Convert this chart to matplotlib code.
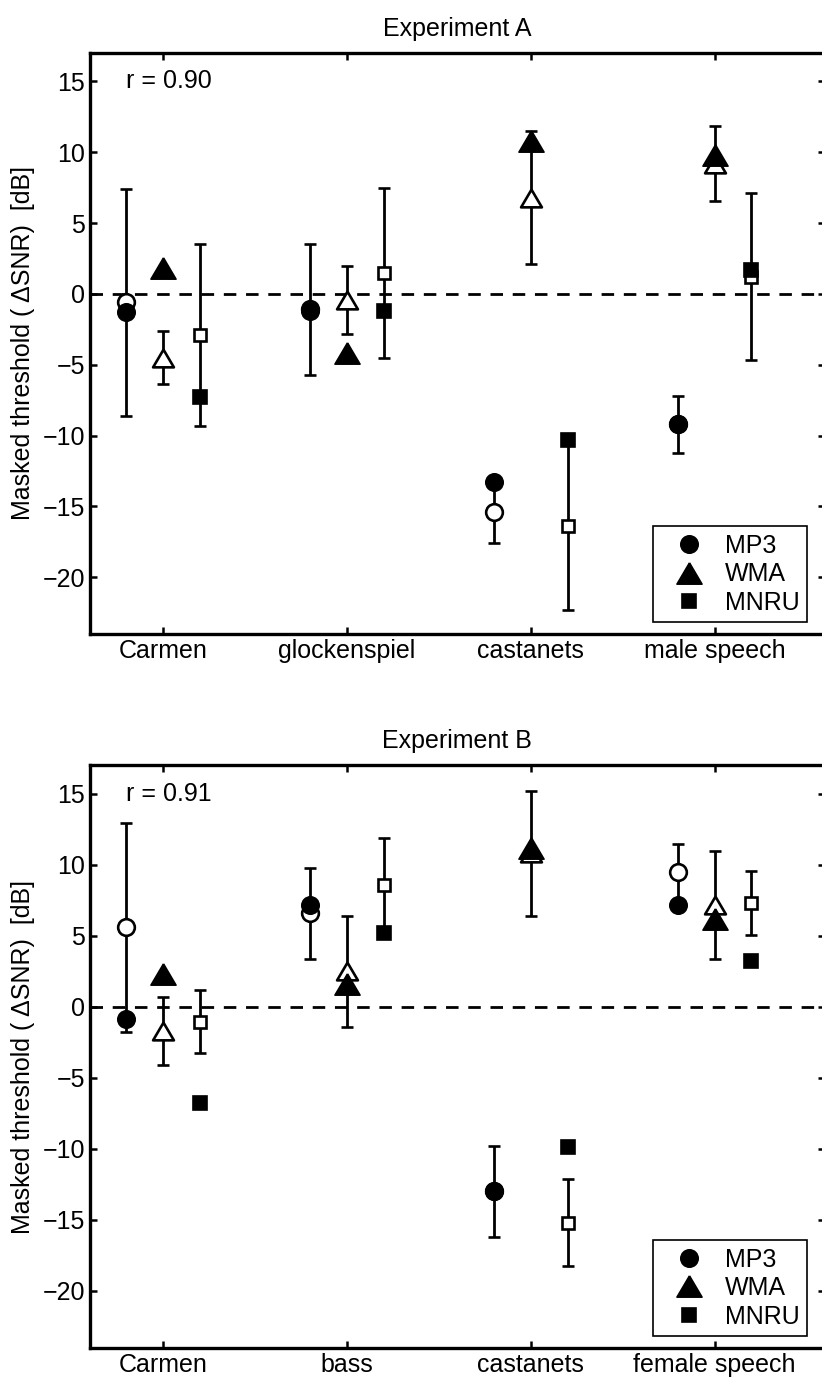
"""Masked thresholds for three codecs (MP3, WMA, MNRU) per test signal.

Open markers with error bars: measured thresholds (mean +/- std).
Filled markers: model predictions. One panel per experiment.
"""
import matplotlib
matplotlib.use("Agg")
import matplotlib.pyplot as plt

plt.rcParams["font.family"] = ["Liberation Sans", "DejaVu Sans"]
plt.rcParams["font.size"] = 18

codecs = ["MP3", "WMA", "MNRU"]

signals_a = ["Carmen", "glockenspiel", "castanets", "male speech"]
measured_a = {
    "MP3": [-0.6, -1.1, -15.4, -9.2],
    "WMA": [-4.5, -0.4, 6.8, 9.2],
    "MNRU": [-2.9, 1.5, -16.4, 1.2],
}
std_a = {
    "MP3": [8.0, 4.6, 2.2, 2.0],
    "WMA": [1.85, 2.4, 4.7, 2.65],
    "MNRU": [6.4, 6.0, 5.9, 5.9],
}
model_a = {
    "MP3": [-1.3, -1.2, -13.3, -9.2],
    "WMA": [1.8, -4.2, 10.8, 9.8],
    "MNRU": [-7.3, -1.2, -10.3, 1.7],
}
r_a = 0.90

signals_b = ["Carmen", "bass", "castanets", "female speech"]
measured_b = {
    "MP3": [5.6, 6.6, -13.0, 9.5],
    "WMA": [-1.7, 2.5, 10.8, 7.2],
    "MNRU": [-1.05, 8.6, -15.2, 7.3],
}
std_b = {
    "MP3": [7.35, 3.2, 3.2, 1.95],
    "WMA": [2.4, 3.9, 4.4, 3.8],
    "MNRU": [2.2, 3.3, 3.05, 2.25],
}
model_b = {
    "MP3": [-0.85, 7.2, -13.0, 7.2],
    "WMA": [2.3, 1.6, 11.2, 6.2],
    "MNRU": [-6.8, 5.2, -9.9, 3.2],
}
r_b = 0.91

yticks = [-20, -15, -10, -5, 0, 5, 10, 15]

# wide, slightly squat triangle
tri = [(0, 0.85), (-1, -0.85), (1, -0.85), (0, 0.85)]
offsets = {"MP3": -0.2, "WMA": 0.0, "MNRU": 0.2}
markers = {"MP3": "o", "WMA": tri, "MNRU": "s"}
open_size = {"MP3": 12, "WMA": 15, "MNRU": 8.5}
filled_size = {"MP3": 12.5, "WMA": 18, "MNRU": 10.5}


def draw_panel(ax, title, signals, measured, std, model, r):
    x = list(range(1, len(signals) + 1))
    ax.axhline(0, color="black", lw=2, ls=(0, (4.5, 3.5)), zorder=1)
    handles = []
    for codec in codecs:
        xs = [xi + offsets[codec] for xi in x]
        ax.errorbar(xs, measured[codec], yerr=std[codec], marker=markers[codec],
                    ls="none", ms=open_size[codec], mfc="white", mec="black",
                    mew=1.9, ecolor="black", elinewidth=2.0, capsize=4.2,
                    capthick=2.4, zorder=3)
        h, = ax.plot(xs, model[codec], ls="none", marker=markers[codec],
                     ms=filled_size[codec], color="black", mec="black",
                     mew=1.2, zorder=4, label=codec)
        handles.append(h)

    ax.set_xlim(0.6, 4.6)
    ax.set_ylim(-24, 17)
    ax.set_xticks(x)
    ax.set_xticklabels(signals)
    ax.set_yticks(yticks)
    ax.set_yticklabels([str(v).replace("-", "\u2212") for v in yticks])
    ax.tick_params(direction="in", length=5, width=1.8, top=True, right=True)
    ax.tick_params(axis="y", pad=3)
    ax.tick_params(axis="x", pad=3.5)
    for side in ["left", "bottom", "top", "right"]:
        ax.spines[side].set_linewidth(2.4)

    ax.text(0.8, 15, f"r = {r:.2f}", ha="left", va="center")
    ax.text(0.5, 1.042, title, ha="center", va="center", transform=ax.transAxes)
    ax.text(-0.090, 0.5, "Masked threshold ( \u0394SNR)  [dB]", rotation=90,
            ha="center", va="center", transform=ax.transAxes)

    leg = ax.legend(handles=handles, loc="lower right",
                    bbox_to_anchor=(0.976, 0.02), frameon=True, fancybox=False,
                    edgecolor="black", framealpha=1, handlelength=2.3,
                    handletextpad=0.3, borderpad=0.3, labelspacing=0.18,
                    borderaxespad=0)
    leg.get_frame().set_linewidth(1.2)


fig = plt.figure(figsize=(8.22, 13.8), dpi=100)
ax_a = fig.add_axes([0.1089, 0.5406, 0.8948, 0.421])
ax_b = fig.add_axes([0.1089, 0.0234, 0.8948, 0.422])

draw_panel(ax_a, "Experiment A", signals_a, measured_a, std_a, model_a, r_a)
draw_panel(ax_b, "Experiment B", signals_b, measured_b, std_b, model_b, r_b)

fig.savefig("out.png", dpi=100)
